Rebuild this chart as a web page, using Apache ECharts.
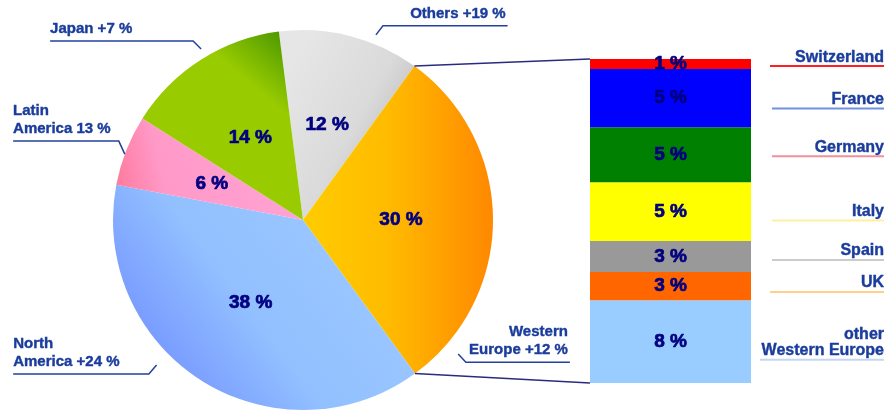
<!DOCTYPE html>
<html>
<head>
<meta charset="utf-8">
<script src="https://cdn.jsdelivr.net/npm/echarts@6/dist/echarts.min.js"></script>
<style>
  html, body { margin: 0; padding: 0; background: #fff; }
  #chart { width: 888px; height: 411px; }
</style>
</head>
<body>
<div id="chart"></div>
<script>
// share by region, clockwise from 12 o'clock
const regions = ['Others', 'Western Europe', 'North America', 'Latin America', 'Japan'];
const regionShare = [12, 30, 38, 6, 14];
const regionGrowth = ['Others +19 %', 'Western\nEurope +12 %', 'North\nAmerica +24 %', 'Latin\nAmerica 13 %', 'Japan +7 %'];

// Western Europe split, bottom to top of the column
const countries = ['other\nWestern Europe', 'UK', 'Spain', 'Italy', 'Germany', 'France', 'Switzerland'];
const countryShare = [7.66, 2.62, 2.87, 5.44, 5.10, 5.38, 0.93];

// styles
const FONT = '"Liberation Sans", Arial, sans-serif';
const textBlue = '#1a3c9c';
const navy = '#000080';
const cx = 303, cy = 220, R = 190, startAngle = 97.3;
const gridLeft = 590, gridTop = 59, gridWidth = 161, gridHeight = 324;
const nameRight = 884;

const lg = (x, y, x2, y2, stops) =>
  new echarts.graphic.LinearGradient(x, y, x2, y2, stops.map((c) => ({ offset: c[0], color: c[1] })));

const regionFills = [
  lg(0, 0.3, 1, 0.7, [[0, '#e6e6e6'], [0.55, '#dadada'], [1, '#b2b2b2']]),
  lg(0, 0.5, 1, 0.5, [[0, '#ffcc00'], [0.45, '#ffbb00'], [1, '#ff8800']]),
  lg(1, 0, 0, 1, [[0, '#a0ccff'], [0.55, '#92c0ff'], [1, '#6680ff']]),
  lg(1, 0.3, 0, 0.7, [[0, '#ffa4d4'], [0.75, '#ff99c8'], [1, '#ff7a9c']]),
  lg(0, 1, 1, 0, [[0, '#99cc00'], [0.7, '#99cc00'], [1, '#3a8c00']])
];

const barColors = ['#99ccff', '#ff6600', '#999999', '#ffff00', '#008000', '#0000ff', '#ff0000'];
const underlineColors = ['#c4d6f2', '#ffcf8c', '#cccccc', '#fff0a0', '#f0909c', '#7090e0', '#ff2020'];
const underlineWidths = [124, 114, 112, 112, 112, 112, 114];
const nameOffsets = [2, -2.2, -4.5, 0.8, -6.4, 2.5, -5.9];

// leader lines for region labels: start angle/radius, diagonal, horizontal run
const leaders = [
  { a: 21.5, r: 199, d: [7, -9], run: 124.7 },
  { a: 130.8, r: 205, d: [7.7, 8.3], run: 104 },
  { a: 225.3, r: 206, d: [-7.7, 9], run: 135.7 },
  { a: 290.3, r: 190, d: [-6, -13], run: 105.7 },
  { a: 329.2, r: 199, d: [-8, -8], run: 143 }
];

function outerLabelLayout(params) {
  const l = leaders[params.dataIndex];
  const rad = l.a * Math.PI / 180;
  const p0 = [cx + l.r * Math.sin(rad), cy - l.r * Math.cos(rad)];
  const p1 = [p0[0] + l.d[0], p0[1] + l.d[1]];
  const dir = l.d[0] < 0 ? -1 : 1;
  const p2 = [p1[0] + dir * l.run, p1[1]];
  return {
    x: p2[0] - (dir > 0 ? 2 : 0),
    y: p2[1] - 3,
    align: dir < 0 ? 'left' : 'right',
    verticalAlign: 'bottom',
    labelLinePoints: [p0, p1, p2]
  };
}

const chart = echarts.init(document.getElementById('chart'));
const total = countryShare.reduce((s, v) => s + v, 0);

// heavy navy percentage text
const pctLabel = {
  fontFamily: FONT,
  fontWeight: 'bold',
  fontSize: 19,
  color: navy,
  textBorderColor: navy,
  textBorderWidth: 0.7
};

const barSeries = countries.map((name, i) => ({
  type: 'bar',
  name: name,
  stack: 'share',
  data: [countryShare[i]],
  barWidth: '100%',
  barGap: '-100%',
  itemStyle: { color: barColors[i] },
  label: Object.assign({
    show: true,
    position: 'inside',
    formatter: (p) => Math.round(p.value) + ' %'
  }, pctLabel),
  emphasis: { disabled: true },
  z: 2
}));

const nameSeries = countries.map((name, i) => ({
  type: 'bar',
  name: name + ' label',
  stack: 'names',
  data: [countryShare[i]],
  barWidth: '100%',
  barGap: '-100%',
  itemStyle: { color: 'rgba(0,0,0,0)' },
  silent: true,
  label: {
    show: true,
    position: 'right',
    distance: nameRight - gridLeft - gridWidth,
    align: 'right',
    offset: [0, nameOffsets[i]],
    formatter: () => name.split('\n').map((t) => '{n|' + t + '}').join('\n') + '\n{u| }',
    rich: {
      n: {
        fontFamily: FONT, fontWeight: 'bold', fontSize: 16, lineHeight: 16, color: textBlue, align: 'right',
        textBorderColor: textBlue, textBorderWidth: 0.4
      },
      u: { width: underlineWidths[i], height: 2, lineHeight: 2, fontSize: 2, backgroundColor: underlineColors[i], align: 'right' }
    }
  },
  emphasis: { disabled: true },
  z: 3
}));

chart.setOption({
  animation: false,
  backgroundColor: '#ffffff',
  grid: { left: gridLeft, top: gridTop, width: gridWidth, height: gridHeight },
  xAxis: { type: 'category', data: ['Western Europe'], show: false },
  yAxis: { type: 'value', min: 0, max: total, show: false },
  series: [
    {
      type: 'pie',
      center: [cx, cy],
      radius: [0, R],
      startAngle: startAngle,
      clockwise: true,
      data: regions.map((name, i) => ({ name: name, value: regionShare[i], itemStyle: { color: regionFills[i] } })),
      label: Object.assign({ show: true, position: 'inside', formatter: '{c} %' }, pctLabel),
      labelLine: { show: false },
      emphasis: { disabled: true },
      z: 2
    },
    {
      type: 'pie',
      center: [cx, cy],
      radius: [0, R],
      startAngle: startAngle,
      clockwise: true,
      silent: true,
      data: regions.map((name, i) => ({ name: name, value: regionShare[i] })),
      itemStyle: { color: 'rgba(0,0,0,0)' },
      label: {
        show: true,
        position: 'outside',
        formatter: (p) => regionGrowth[p.dataIndex],
        width: 200,
        overflow: 'none',
        fontFamily: FONT,
        fontWeight: 'bold',
        fontSize: 15,
        lineHeight: 18,
        color: textBlue,
        textBorderColor: textBlue,
        textBorderWidth: 0.4
      },
      labelLine: { show: true, length: 10, length2: 10, lineStyle: { color: '#23409e', width: 1.5 } },
      labelLayout: outerLabelLayout,
      emphasis: { disabled: true },
      z: 3
    }
  ].concat(barSeries, nameSeries)
});

// connector lines from the Western Europe slice edges to the column
const sumRegions = regionShare.reduce((s, v) => s + v, 0);
const weIdx = regions.indexOf('Western Europe');
const before = regionShare.slice(0, weIdx).reduce((s, v) => s + v, 0);
const a1 = (startAngle - 360 * before / sumRegions) * Math.PI / 180;
const a2 = (startAngle - 360 * (before + regionShare[weIdx]) / sumRegions) * Math.PI / 180;
const yTop = chart.convertToPixel({ yAxisIndex: 0 }, total);
const yBottom = chart.convertToPixel({ yAxisIndex: 0 }, 0);
chart.setOption({
  graphic: [
    {
      type: 'line', z: 10,
      shape: { x1: cx + R * Math.cos(a1), y1: cy - R * Math.sin(a1), x2: gridLeft, y2: yTop },
      style: { stroke: '#2a2a80', lineWidth: 1.5 }
    },
    {
      type: 'line', z: 10,
      shape: { x1: cx + R * Math.cos(a2), y1: cy - R * Math.sin(a2), x2: gridLeft, y2: yBottom },
      style: { stroke: '#2a2a80', lineWidth: 1.5 }
    }
  ]
});
</script>
</body>
</html>
